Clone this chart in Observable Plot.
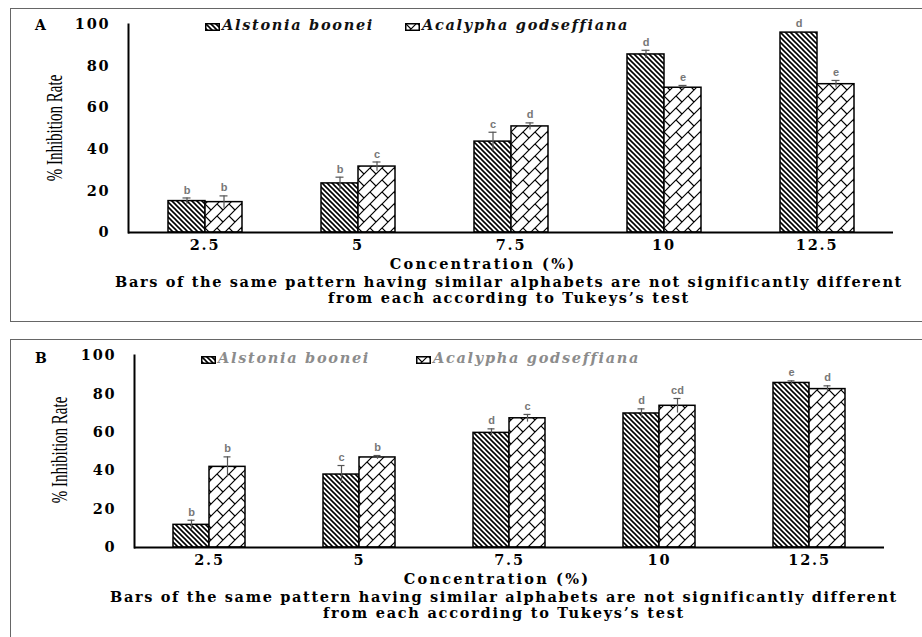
<!DOCTYPE html>
<html>
<head>
<meta charset="utf-8">
<script src="https://cdn.jsdelivr.net/npm/d3@7"></script>
<script src="https://cdn.jsdelivr.net/npm/@observablehq/plot@0.6"></script>
<style>
  html, body { margin: 0; padding: 0; background: #fff; }
  body { position: relative; width: 922px; height: 637px; overflow: hidden; }
  .box { position: absolute; border: 1.5px solid #666; box-sizing: border-box; }
  .abs { position: absolute; white-space: nowrap; }
  .serifb { font-family: "DejaVu Serif", serif; font-weight: bold; }
  .plotwrap { position: absolute; left: 0; }
  .plotwrap svg { display: block; }
  .plotwrap g[aria-label="fx-axis tick label"] text,
  .plotwrap g[aria-label="y-axis tick label"] text { letter-spacing: 1.8px; }
</style>
</head>
<body>
<svg width="0" height="0" style="position:absolute">
  <defs>
    <pattern id="hatchAlstonia" patternUnits="userSpaceOnUse" width="5" height="5">
      <rect width="5" height="5" fill="white"/>
      <path d="M-1,4 L1,6 M0,0 L5,5 M4,-1 L6,1" stroke="black" stroke-width="1.6"/>
    </pattern>
    <pattern id="brickAcalypha" patternUnits="userSpaceOnUse" width="12" height="12">
      <rect width="12" height="12" fill="white"/>
      <path d="M-1,13 L13,-1 M-1,1 L1,-1 M11,13 L13,11 M0,0 L6,6" fill="none" stroke="black" stroke-width="1.2"/>
    </pattern>
  </defs>
</svg>

<div class="box" style="left:10px; top:8px; width:930px; height:314px;"></div>
<div class="box" style="left:10px; top:339px; width:930px; height:320px;"></div>

<div id="plotA" class="plotwrap" style="top:0px;"></div>
<div id="plotB" class="plotwrap" style="top:330px;"></div>

<div id="overlay"></div>

<script>
// ---------- data ----------
const concentrations = ["2.5", "5", "7.5", "10", "12.5"];
const species = ["Alstonia boonei", "Acalypha godseffiana"];
const yTicks = [0, 20, 40, 60, 80, 100];

// Panel A
const aAlstonia = [15.1, 23.6, 43.7, 85.6, 96.1];
const aAlstoniaErr = [1.5, 3.0, 4.5, 2.0, 0.5];
const aAlstoniaLetters = ["b", "b", "c", "d", "d"];
const aAcalypha = [14.6, 31.7, 51.0, 69.6, 71.3];
const aAcalyphaErr = [3.0, 2.2, 1.7, 1.1, 1.8];
const aAcalyphaLetters = ["b", "c", "d", "e", "e"];

// Panel B
const bAlstonia = [11.8, 38.0, 59.7, 69.8, 85.7];
const bAlstoniaErr = [2.4, 4.7, 2.1, 2.4, 1.1];
const bAlstoniaLetters = ["b", "c", "d", "d", "e"];
const bAcalypha = [42.0, 46.9, 67.3, 73.8, 82.5];
const bAcalyphaErr = [5.2, 1.0, 2.0, 3.8, 1.7];
const bAcalyphaLetters = ["b", "b", "c", "cd", "d"];

const captionLine1 = "Bars of the same pattern having similar alphabets are not significantly different";
const captionLine2 = "from each according to Tukeys’s test";
const xLabel = "Concentration (%)";
const yLabel = "% Inhibition Rate";

// ---------- build tables ----------
function table(v1, e1, l1, v2, e2, l2) {
  const rows = [];
  concentrations.forEach((c, i) => {
    rows.push({conc: c, species: species[0], value: v1[i], err: e1[i], letter: l1[i]});
    rows.push({conc: c, species: species[1], value: v2[i], err: e2[i], letter: l2[i]});
  });
  return rows;
}
const rowsA = table(aAlstonia, aAlstoniaErr, aAlstoniaLetters, aAcalypha, aAcalyphaErr, aAcalyphaLetters);
const rowsB = table(bAlstonia, bAlstoniaErr, bAlstoniaLetters, bAcalypha, bAcalyphaErr, bAcalyphaLetters);

function panel(rows, opts) {
  return Plot.plot({
    width: 922,
    height: opts.height,
    marginLeft: opts.marginLeft,
    marginRight: opts.marginRight,
    marginTop: opts.marginTop,
    marginBottom: opts.marginBottom,
    style: {fontFamily: "DejaVu Serif", fontWeight: "bold", fontSize: "14.5px", color: "black", background: "transparent", overflow: "visible"},
    fx: {domain: concentrations, padding: 0, label: null, tickSize: 0, tickPadding: 7, axis: "bottom"},
    x: {domain: species, axis: null, paddingInner: 0, paddingOuter: 1.04},
    y: {domain: [0, 100], ticks: yTicks, tickSize: 0, tickPadding: 18, label: null},
    color: {domain: species, range: ["url(#hatchAlstonia)", "url(#brickAcalypha)"]},
    marks: [
      Plot.barY(rows, {fx: "conc", x: "species", y: "value", fill: "species", stroke: "black", strokeWidth: 1.5, inset: 0}),
      Plot.ruleX(rows, {fx: "conc", x: "species", y1: d => d.value - d.err, y2: d => d.value + d.err, stroke: "#555", strokeWidth: 1.2}),
      Plot.tickY(rows, {fx: "conc", x: "species", y: d => d.value + d.err, stroke: "#555", strokeWidth: 1.2, insetLeft: 14.5, insetRight: 14.5}),
      Plot.text(rows, {fx: "conc", x: "species", y: d => d.value + d.err, text: "letter", dy: -8, fill: "#777", fontFamily: "Liberation Sans", fontWeight: "bold", fontSize: 11}),
      Plot.ruleY([0], {stroke: "black", strokeWidth: 2}),
      Plot.frame({anchor: "left", facetAnchor: "left", stroke: "black", strokeWidth: 2})
    ]
  });
}

document.getElementById("plotA").appendChild(panel(rowsA, {height: 321, marginLeft: 127, marginRight: 29, marginTop: 24, marginBottom: 89}));
document.getElementById("plotB").appendChild(panel(rowsB, {height: 307, marginLeft: 133, marginRight: 37, marginTop: 25, marginBottom: 90}));

// ---------- text overlays ----------
const overlay = document.getElementById("overlay");
function addText(txt, css, cls) {
  const d = document.createElement("div");
  d.className = "abs " + (cls || "");
  d.textContent = txt;
  Object.assign(d.style, css);
  overlay.appendChild(d);
  return d;
}
function addSwatch(x, y, w, h, fill) {
  const ns = "http://www.w3.org/2000/svg";
  const s = document.createElementNS(ns, "svg");
  s.setAttribute("width", w); s.setAttribute("height", h);
  s.style.position = "absolute"; s.style.left = x + "px"; s.style.top = y + "px";
  const r = document.createElementNS(ns, "rect");
  r.setAttribute("x", 0.75); r.setAttribute("y", 0.75);
  r.setAttribute("width", w - 1.5); r.setAttribute("height", h - 1.5);
  r.setAttribute("fill", fill); r.setAttribute("stroke", "black"); r.setAttribute("stroke-width", 1.5);
  s.appendChild(r);
  overlay.appendChild(s);
}

function panelTexts(o) {
  addText(o.letter, {left: "35px", top: (o.legendY - 10) + "px", fontSize: "14px", letterSpacing: "1px"}, "serifb");
  addSwatch(o.sw1, o.legendY - 4, 15, 8, "url(#hatchAlstonia)");
  addText(species[0], {left: (o.sw1 + 17) + "px", top: (o.legendY - 11) + "px", fontSize: "14.5px", fontStyle: "italic", letterSpacing: "1.7px", color: o.legendColor}, "serifb");
  addSwatch(o.sw2, o.legendY - 4, 15, 8, "url(#brickAcalypha)");
  addText(species[1], {left: (o.sw2 + 17) + "px", top: (o.legendY - 11) + "px", fontSize: "14.5px", fontStyle: "italic", letterSpacing: "1.7px", color: o.legendColor}, "serifb");
  addText(yLabel, {left: o.ylx + "px", top: o.yly + "px", fontFamily: "Liberation Serif", fontSize: "15px", transform: "translate(-50%,-50%) rotate(-90deg) scale(1,1.5)"});
  addText(xLabel, {left: o.xlx + "px", top: o.xly + "px", fontSize: "14.5px", letterSpacing: "2.2px", lineHeight: "15px", transform: "translate(-50%,-50%)"}, "serifb");
  addText(captionLine1, {left: o.cx + "px", top: o.c1y + "px", fontSize: "14.5px", letterSpacing: "1.65px", lineHeight: "15px", transform: "translate(-50%,-50%)"}, "serifb");
  addText(captionLine2, {left: o.cx + "px", top: (o.c1y + 16) + "px", fontSize: "14.5px", letterSpacing: "1.75px", lineHeight: "15px", transform: "translate(-50%,-50%)"}, "serifb");
}

panelTexts({letter: "A", legendY: 27, sw1: 205, sw2: 405, legendColor: "#111", ylx: 55, yly: 128, xlx: 483, xly: 263, cx: 509, c1y: 281});
panelTexts({letter: "B", legendY: 360, sw1: 201, sw2: 416, legendColor: "#8c8c8c", ylx: 60, yly: 450, xlx: 497, xly: 578, cx: 504, c1y: 596});
</script>
</body>
</html>
